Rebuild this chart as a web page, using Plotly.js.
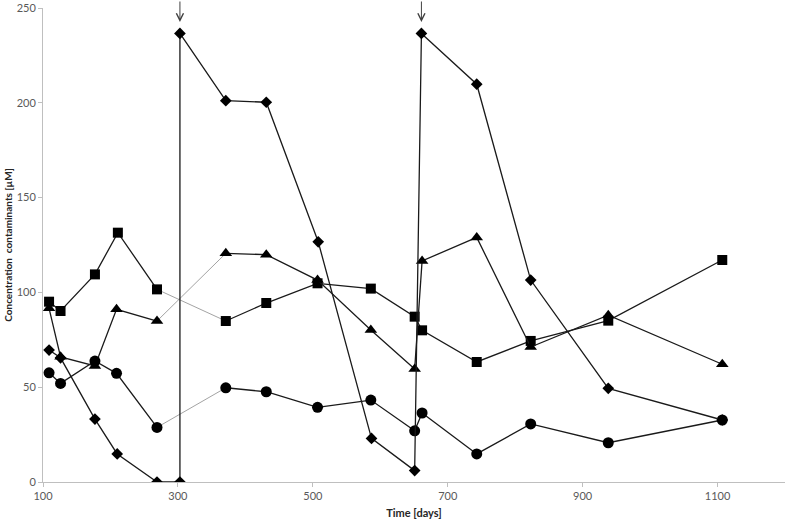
<!DOCTYPE html>
<html>
<head>
<meta charset="utf-8">
<script src="https://cdn.plot.ly/plotly-3.0.1.min.js"></script>
<style>html,body{margin:0;padding:0;background:#fff;}#chart{width:787px;height:530px;}</style>
</head>
<body>
<div id="chart"></div>
<script>
// Diamond series
const diamondDays = [109, 126, 177, 210, 269, 303, 303, 371, 431, 508, 587, 651, 661, 743, 823, 938, 1107];
const diamondVals = [69.6, 65.5, 33.2, 14.8, 0, 0, 236.6, 201.1, 200.3, 126.7, 23, 6, 236.6, 209.8, 106.5, 49.4, 32.7];
// Square series
const squareDays = [109, 126, 177, 211, 269, 371, 431, 507, 586, 651, 662, 743, 823, 938, 1107];
const squareVals = [95.1, 90.2, 109.5, 131.5, 101.6, 84.9, 94.4, 104.8, 102, 87.2, 80, 63.3, 74.4, 85.1, 117.1];
// Triangle series
const triangleDays = [109, 126, 177, 209, 269, 371, 431, 507, 586, 651, 662, 743, 823, 938, 1107];
const triangleVals = [91.6, 66, 61.2, 91.1, 84.9, 120.6, 119.9, 106.5, 80.2, 59.6, 116.6, 129, 71.2, 88, 62.1];
// Circle series
const circleDays = [109, 126, 177, 209, 269, 371, 431, 507, 586, 651, 662, 743, 823, 938, 1107];
const circleVals = [57.6, 52, 63.8, 57.3, 28.8, 49.7, 47.6, 39.4, 43.2, 27, 36.4, 14.8, 30.6, 20.7, 32.7];
// Gap index (thin connector between these two samples)
const gapStart = 4;
// Spike (arrow) positions taken from diamond series indices
const spikeIdx = [6, 12];

const xTicks = [100, 300, 500, 700, 900, 1100];
const yTicks = [0, 50, 100, 150, 200, 250];

const traces = [];
function addSeries(days, vals, symbol, size) {
  traces.push({
    x: days.slice(gapStart, gapStart + 2), y: vals.slice(gapStart, gapStart + 2),
    mode: 'lines', line: {color: '#8c8c8c', width: 0.8}, hoverinfo: 'skip', showlegend: false
  });
  traces.push({
    x: days.slice(0, gapStart + 1), y: vals.slice(0, gapStart + 1),
    mode: 'lines+markers', line: {color: '#1a1a1a', width: 1.3},
    marker: {symbol: symbol, size: size, color: '#000'}, showlegend: false
  });
  traces.push({
    x: days.slice(gapStart + 1), y: vals.slice(gapStart + 1),
    mode: 'lines+markers', line: {color: '#1a1a1a', width: 1.3},
    marker: {symbol: symbol, size: size, color: '#000'}, showlegend: false
  });
}
addSeries(squareDays, squareVals, 'square', 10);
addSeries(triangleDays, triangleVals, 'triangle-up', 11);
addSeries(circleDays, circleVals, 'circle', 11);
traces.push({
  x: diamondDays, y: diamondVals, mode: 'lines+markers',
  line: {color: '#1a1a1a', width: 1.3},
  marker: {symbol: 'diamond', size: 9, color: '#000'}, showlegend: false
});

const font = {family: 'Lato, "Open Sans", sans-serif', size: 11, color: '#595959'};
const annotations = spikeIdx.map(i => ({
  x: diamondDays[i], xref: 'x', y: 0.9705, yref: 'paper',
  ax: 0, ay: -22, showarrow: true, arrowhead: 5, arrowsize: 1.4, arrowwidth: 1,
  arrowcolor: '#404040', text: ''
}));

const layout = {
  width: 787, height: 530,
  margin: {l: 43, r: 2, t: 8, b: 48},
  paper_bgcolor: '#fff', plot_bgcolor: '#fff',
  font: font,
  xaxis: {
    range: [100, 1200], tickvals: xTicks, ticktext: xTicks.map(String),
    showgrid: false, zeroline: false, showline: true, linecolor: '#bfbfbf', linewidth: 1,
    ticks: 'outside', ticklen: 4, tickcolor: '#bfbfbf', tickfont: font,
    title: {text: 'Time [days]', font: {family: 'Lato, "Open Sans", sans-serif', size: 11, color: '#262626', weight: 'bold'}, standoff: 8},
    automargin: false
  },
  yaxis: {
    range: [0, 250], tickvals: yTicks, ticktext: yTicks.map(String),
    showgrid: false, zeroline: false, showline: true, linecolor: '#bfbfbf', linewidth: 1,
    ticks: 'outside', ticklen: 4, tickcolor: '#bfbfbf', tickfont: font,
    title: {text: 'Concentration\u00a0 contaminants [µM]', font: {family: 'Lato, "Open Sans", sans-serif', size: 10, color: '#262626', weight: 'bold'}, standoff: 2},
    automargin: false
  },
  annotations: annotations,
  showlegend: false
};

Plotly.newPlot('chart', traces, layout, {displayModeBar: false, staticPlot: true});
</script>
</body>
</html>
